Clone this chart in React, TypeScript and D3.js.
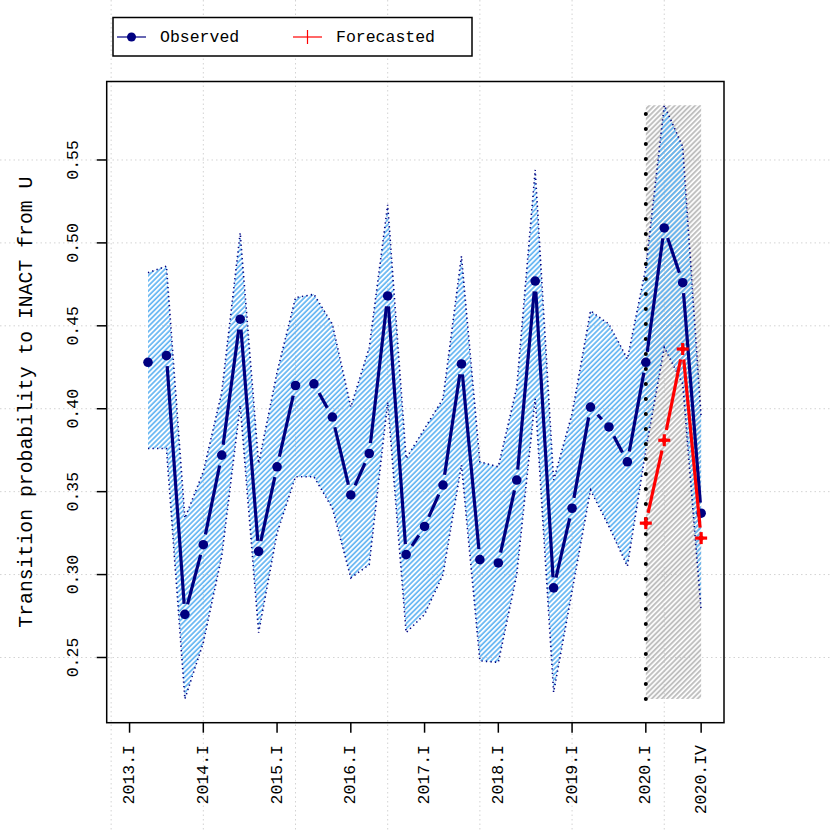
import { useRef, useEffect } from 'react';
import * as d3 from 'd3';

// quarterly periods on the x axis
const years = [2013, 2014, 2015, 2016, 2017, 2018, 2019, 2020];
const quarterNames = ['I', 'II', 'III', 'IV'];
const periods = years.flatMap(y => quarterNames.map(q => `${y}.${q}`));

// observed series starts at 2013.II
const observedPeriods = periods.slice(1);
const observed = [
  0.428, 0.432, 0.276,
  0.318, 0.372, 0.454, 0.314,
  0.365, 0.414, 0.415, 0.395,
  0.348, 0.373, 0.468, 0.312,
  0.329, 0.354, 0.427, 0.309,
  0.307, 0.357, 0.477, 0.292,
  0.340, 0.401, 0.389, 0.368,
  0.428, 0.509, 0.476, 0.337,
];
const upper = [
  0.482, 0.486, 0.334,
  0.362, 0.410, 0.506, 0.367,
  0.422, 0.467, 0.469, 0.451,
  0.401, 0.437, 0.523, 0.370,
  0.388, 0.406, 0.492, 0.368,
  0.365, 0.413, 0.544, 0.357,
  0.397, 0.459, 0.451, 0.430,
  0.485, 0.583, 0.558, 0.395,
];
const lower = [
  0.376, 0.376, 0.225,
  0.259, 0.311, 0.402, 0.265,
  0.325, 0.359, 0.359, 0.340,
  0.298, 0.306, 0.404, 0.265,
  0.276, 0.300, 0.366, 0.248,
  0.247, 0.300, 0.406, 0.229,
  0.290, 0.351, 0.329, 0.305,
  0.375, 0.437, 0.415, 0.278,
];

const forecastPeriods = ['2020.I', '2020.II', '2020.III', '2020.IV'];
const forecast = [0.331, 0.381, 0.436, 0.322];

const tickLabels = ['2013.I', '2014.I', '2015.I', '2016.I', '2017.I', '2018.I', '2019.I', '2020.I', '2020.IV'];
const yTicks = [0.25, 0.30, 0.35, 0.40, 0.45, 0.50, 0.55];
const xGrid = [0, 5, 10, 15, 20, 25, 30];

const FONT = '"Liberation Mono", "DejaVu Sans Mono", monospace';
const NAVY = '#000080';
const RED = '#ff0000';

const tIndex = (p: string) => periods.indexOf(p) + 1;

const App = () => {
  const svgRef = useRef<SVGSVGElement>(null);

  useEffect(() => {
    const svg = d3.select(svgRef.current);
    svg.selectAll('*').remove();
    const W = 830, H = 830;

    const obsData = observedPeriods.map((p, i) => ({ t: tIndex(p), v: observed[i], hi: upper[i], lo: lower[i] }));
    const fcData = forecastPeriods.map((p, i) => ({ t: tIndex(p), v: forecast[i] }));

    const bandMin = d3.min(lower);
    const bandMax = d3.max(upper);
    const tMin = 1, tMax = periods.length;
    const xPad = (tMax - tMin) * 0.04;
    const yPad = (bandMax - bandMin) * 0.04;

    const plot = { left: 106.7, right: 724, top: 81.5, bottom: 722.7 };
    const x = d3.scaleLinear().domain([tMin - xPad, tMax + xPad]).range([plot.left, plot.right]);
    const y = d3.scaleLinear().domain([bandMin - yPad, bandMax + yPad]).range([plot.bottom, plot.top]);

    const defs = svg.append('defs');
    const hatch = (id, color, w) => {
      const p = defs.append('pattern')
        .attr('id', id)
        .attr('patternUnits', 'userSpaceOnUse')
        .attr('width', 3.6).attr('height', 3.6)
        .attr('patternTransform', 'rotate(45)');
      p.append('line')
        .attr('x1', 1).attr('y1', 0).attr('x2', 1).attr('y2', 3.6)
        .attr('stroke', color).attr('stroke-width', w);
    };
    hatch('hatchBlue', '#62b4f2', 1.7);
    hatch('hatchGrey', '#bebebe', 1.9);

    svg.append('rect').attr('width', W).attr('height', H).attr('fill', 'white');

    // grid, spanning the whole device as in the original
    const grid = svg.append('g').attr('stroke', '#d3d3d3').attr('stroke-dasharray', '1.5 3').attr('stroke-width', 1);
    grid.selectAll('.gx').data(xGrid).join('line')
      .attr('x1', d => x(d)).attr('x2', d => x(d)).attr('y1', 0).attr('y2', H);
    grid.selectAll('.gy').data(yTicks).join('line')
      .attr('class', 'gy')
      .attr('y1', d => y(d)).attr('y2', d => y(d)).attr('x1', 0).attr('x2', W);

    // forecast window
    const t0 = tIndex(forecastPeriods[0]);
    const t1 = tIndex(forecastPeriods[forecastPeriods.length - 1]);
    svg.append('rect')
      .attr('x', x(t0)).attr('width', x(t1) - x(t0))
      .attr('y', y(bandMax)).attr('height', y(bandMin) - y(bandMax))
      .attr('fill', 'url(#hatchGrey)');

    // confidence band
    const area = d3.area().x(d => x(d.t)).y0(d => y(d.lo)).y1(d => y(d.hi));
    svg.append('path').datum(obsData).attr('d', area).attr('fill', 'url(#hatchBlue)');

    const edge = (key) => d3.line().x(d => x(d.t)).y(d => y(d[key]));
    ['hi', 'lo'].forEach(k => {
      svg.append('path').datum(obsData).attr('d', edge(k))
        .attr('fill', 'none').attr('stroke', NAVY).attr('stroke-width', 1.6)
        .attr('stroke-dasharray', '1.3 3.2');
    });

    // vertical dotted marker at start of forecast
    svg.append('line')
      .attr('x1', x(t0)).attr('x2', x(t0))
      .attr('y1', y(bandMin)).attr('y2', y(bandMax))
      .attr('stroke', 'black').attr('stroke-width', 4)
      .attr('stroke-linecap', 'round').attr('stroke-dasharray', '0 15');

    // type "b" lines: segments with gaps around the points
    const gapped = (data, color) => {
      const gap = 10.5;
      const segs = [];
      for (let i = 0; i < data.length - 1; i++) {
        const ax = x(data[i].t), ay = y(data[i].v);
        const bx = x(data[i + 1].t), by = y(data[i + 1].v);
        const len = Math.hypot(bx - ax, by - ay);
        if (len <= 2 * gap) continue;
        const ux = (bx - ax) / len, uy = (by - ay) / len;
        segs.push([ax + ux * gap, ay + uy * gap, bx - ux * gap, by - uy * gap]);
      }
      svg.append('g').selectAll('line').data(segs).join('line')
        .attr('x1', d => d[0]).attr('y1', d => d[1]).attr('x2', d => d[2]).attr('y2', d => d[3])
        .attr('stroke', color).attr('stroke-width', 3.2);
    };

    gapped(obsData, NAVY);
    svg.append('g').selectAll('circle').data(obsData).join('circle')
      .attr('cx', d => x(d.t)).attr('cy', d => y(d.v)).attr('r', 4.8).attr('fill', NAVY);

    gapped(fcData, RED);
    const plus = (g, cx, cy, arm, w) => {
      g.append('line').attr('x1', cx - arm).attr('x2', cx + arm).attr('y1', cy).attr('y2', cy)
        .attr('stroke', RED).attr('stroke-width', w);
      g.append('line').attr('x1', cx).attr('x2', cx).attr('y1', cy - arm).attr('y2', cy + arm)
        .attr('stroke', RED).attr('stroke-width', w);
    };
    const fcPts = svg.append('g');
    fcData.forEach(d => {
      plus(fcPts, x(d.t), y(d.v), 6, 3.2);
      fcPts.append('circle').attr('cx', x(d.t)).attr('cy', y(d.v)).attr('r', 2.6).attr('fill', RED);
    });

    // frame
    svg.append('rect')
      .attr('x', plot.left).attr('y', plot.top)
      .attr('width', plot.right - plot.left).attr('height', plot.bottom - plot.top)
      .attr('fill', 'none').attr('stroke', 'black').attr('stroke-width', 1.5);

    // y axis
    const yAxis = svg.append('g');
    yAxis.selectAll('line').data(yTicks).join('line')
      .attr('x1', plot.left).attr('x2', plot.left - 10)
      .attr('y1', d => y(d)).attr('y2', d => y(d))
      .attr('stroke', 'black').attr('stroke-width', 1.5);
    yAxis.selectAll('text').data(yTicks).join('text')
      .attr('transform', d => `translate(73,${y(d)}) rotate(-90)`)
      .attr('text-anchor', 'middle').attr('dominant-baseline', 'central')
      .attr('font-family', FONT).attr('font-size', 16.5)
      .text(d => d3.format('.2f')(d));

    // x axis
    const xAxis = svg.append('g');
    xAxis.selectAll('line').data(tickLabels).join('line')
      .attr('x1', d => x(tIndex(d))).attr('x2', d => x(tIndex(d)))
      .attr('y1', plot.bottom).attr('y2', plot.bottom + 10)
      .attr('stroke', 'black').attr('stroke-width', 1.5);
    xAxis.selectAll('text').data(tickLabels).join('text')
      .attr('transform', d => `translate(${x(tIndex(d))},745) rotate(-90)`)
      .attr('text-anchor', 'end').attr('dominant-baseline', 'central')
      .attr('font-family', FONT).attr('font-size', 16.5)
      .text(d => d);

    svg.append('text')
      .attr('transform', `translate(27,${(plot.top + plot.bottom) / 2}) rotate(-90)`)
      .attr('text-anchor', 'middle').attr('dominant-baseline', 'central')
      .attr('font-family', FONT).attr('font-size', 19.8)
      .text('Transition probability to INACT from U');

    // legend
    const lg = svg.append('g');
    lg.append('rect').attr('x', 113).attr('y', 17.5).attr('width', 359).attr('height', 38.5)
      .attr('fill', 'white').attr('stroke', 'black').attr('stroke-width', 1.5);
    lg.append('line').attr('x1', 117).attr('x2', 146).attr('y1', 37).attr('y2', 37)
      .attr('stroke', NAVY).attr('stroke-width', 1.2);
    lg.append('circle').attr('cx', 131.5).attr('cy', 37).attr('r', 4.5).attr('fill', NAVY);
    lg.append('line').attr('x1', 293).attr('x2', 322).attr('y1', 37).attr('y2', 37)
      .attr('stroke', RED).attr('stroke-width', 1.2);
    lg.append('line').attr('x1', 307.5).attr('x2', 307.5).attr('y1', 30).attr('y2', 44)
      .attr('stroke', RED).attr('stroke-width', 1.2);
    lg.selectAll('text').data([['Observed', 160], ['Forecasted', 336]]).join('text')
      .attr('x', d => d[1]).attr('y', 37)
      .attr('dominant-baseline', 'central')
      .attr('font-family', FONT).attr('font-size', 16.5)
      .text(d => d[0]);
  }, []);

  return <svg ref={svgRef} width="830" height="830" style={{ position: 'absolute', left: 0, top: 0 }}></svg>;
};

export default App;
